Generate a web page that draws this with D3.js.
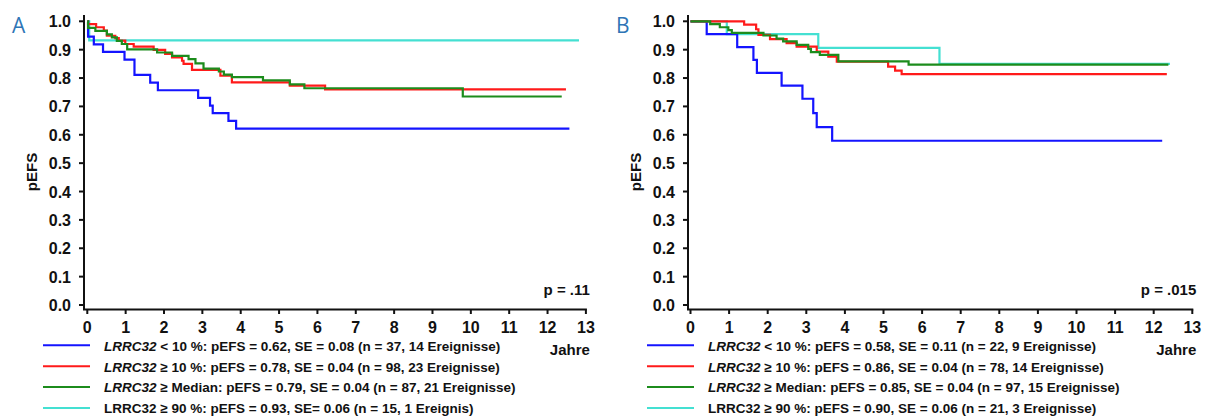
<!DOCTYPE html>
<html>
<head>
<meta charset="utf-8">
<script src="https://cdn.jsdelivr.net/npm/d3@7"></script>
<style>
body { margin: 0; background: #fff; }
svg text { font-family: "Liberation Sans", Arial, sans-serif; font-weight: bold; fill: #111; }
</style>
</head>
<body>
<svg id="chart" width="1206" height="417"></svg>
<script>
// tick values
var xTicks = d3.range(0, 14);
var yTicks = [0, 0.1, 0.2, 0.3, 0.4, 0.5, 0.6, 0.7, 0.8, 0.9, 1.0];

// panel A, Kaplan-Meier steps [Jahre, pEFS]
var aLow = [[0,1],[0.02,0.946],[0.17,0.919],[0.41,0.892],[0.97,0.865],[1.23,0.811],[1.64,0.784],[1.84,0.757],[2.89,0.730],[3.20,0.703],[3.27,0.676],[3.68,0.649],[3.88,0.622],[12.57,0.622]];
var aHigh10 = [[0,1],[0.02,0.990],[0.23,0.979],[0.43,0.967],[0.51,0.949],[0.73,0.941],[0.82,0.932],[0.99,0.920],[1.21,0.911],[1.73,0.899],[2.03,0.885],[2.21,0.873],[2.47,0.861],[2.51,0.850],[2.73,0.829],[3.47,0.808],[3.77,0.785],[5.28,0.773],[6.20,0.760],[12.48,0.760]];
var aMedian = [[0,1],[0.02,0.977],[0.21,0.966],[0.51,0.954],[0.64,0.943],[0.77,0.931],[0.90,0.920],[1.04,0.901],[1.82,0.890],[2.21,0.878],[2.64,0.867],[2.82,0.852],[3.03,0.833],[3.43,0.823],[3.56,0.812],[3.77,0.803],[4.58,0.792],[5.28,0.778],[5.66,0.764],[9.79,0.735],[12.37,0.735]];
var aTop90 = [[0,1],[0.05,0.933],[12.82,0.933]];

// panel B
var bLow = [[0,1],[0.42,0.955],[1.21,0.909],[1.63,0.864],[1.72,0.818],[2.36,0.773],[2.90,0.727],[3.18,0.676],[3.27,0.627],[3.67,0.579],[12.22,0.579]];
var bHigh10 = [[0,1],[1.39,0.988],[1.70,0.972],[1.76,0.952],[2.06,0.937],[2.49,0.923],[2.75,0.911],[3.27,0.893],[3.57,0.875],[3.79,0.858],[5.12,0.840],[5.30,0.826],[5.47,0.814],[12.34,0.814]];
var bMedian = [[0,1],[0.51,0.990],[0.76,0.979],[0.98,0.969],[1.07,0.959],[1.89,0.950],[2.23,0.939],[2.40,0.929],[2.75,0.917],[3.05,0.903],[3.12,0.891],[3.35,0.882],[3.83,0.859],[5.65,0.847],[12.38,0.847]];
var bTop90 = [[0,1],[0.94,0.955],[3.31,0.906],[6.45,0.850],[12.42,0.850]];

// legend texts
var legendGene = ["LRRC32", "LRRC32", "LRRC32", "LRRC32"];
var legendGeneItalic = [true, true, true, false];
var legendA = [
  " < 10 %: pEFS = 0.62, SE = 0.08 (n = 37, 14 Ereignisse)",
  " \u2265 10 %: pEFS = 0.78, SE = 0.04 (n = 98, 23 Ereignisse)",
  " \u2265 Median: pEFS = 0.79, SE = 0.04 (n = 87, 21 Ereignisse)",
  " \u2265 90 %: pEFS = 0.93, SE= 0.06 (n = 15, 1 Ereignis)"
];
var legendB = [
  " < 10 %: pEFS = 0.58, SE = 0.11 (n = 22, 9 Ereignisse)",
  " \u2265 10 %: pEFS = 0.86, SE = 0.04 (n = 78, 14 Ereignisse)",
  " \u2265 Median: pEFS = 0.85, SE = 0.04 (n = 97, 15 Ereignisse)",
  " \u2265 90 %: pEFS = 0.90, SE = 0.06 (n = 21, 3 Ereignisse)"
];
var pValues = ["p = .11", "p = .015"];
var panelLabels = ["A", "B"];

var colors = ["#1414ff", "#ff1a1a", "#1c8c1c", "#44e0d2"];

var svg = d3.select("#chart");

function drawPanel(opt) {
  var g = svg.append("g");
  var x = d3.scaleLinear().domain([0, 13]).range([opt.x0, opt.x13]);
  var y = d3.scaleLinear().domain([0, 1]).range([305, 21.3]);

  // y axis (offset Prism style)
  g.append("line")
    .attr("x1", opt.axisX).attr("x2", opt.axisX)
    .attr("y1", 15).attr("y2", 310)
    .attr("stroke", "#111").attr("stroke-width", 2);
  g.selectAll(".ytick").data(yTicks).enter().append("line")
    .attr("x1", opt.axisX - 5).attr("x2", opt.axisX)
    .attr("y1", function(d) { return y(d); })
    .attr("y2", function(d) { return y(d); })
    .attr("stroke", "#111").attr("stroke-width", 2);
  g.selectAll(".ylab").data(yTicks).enter().append("text")
    .attr("x", opt.axisX - 13)
    .attr("y", function(d) { return y(d) + 6; })
    .attr("text-anchor", "end")
    .style("font-size", "16px")
    .text(d3.format(".1f"));

  // x axis
  g.append("line")
    .attr("x1", opt.axisX - 1).attr("x2", x(13) + 1)
    .attr("y1", 309.5).attr("y2", 309.5)
    .attr("stroke", "#111").attr("stroke-width", 2);
  g.selectAll(".xtick").data(xTicks).enter().append("line")
    .attr("x1", function(d) { return x(d); })
    .attr("x2", function(d) { return x(d); })
    .attr("y1", 309.5).attr("y2", 314)
    .attr("stroke", "#111").attr("stroke-width", 2);
  g.selectAll(".xlab").data(xTicks).enter().append("text")
    .attr("x", function(d) { return x(d); })
    .attr("y", 333)
    .attr("text-anchor", "middle")
    .style("font-size", "16px")
    .text(function(d) { return d; });

  g.append("text")
    .attr("x", x(13) + 4).attr("y", 355)
    .attr("text-anchor", "end")
    .style("font-size", "15px")
    .text("Jahre");

  g.append("text")
    .attr("transform", "translate(" + (opt.axisX - 47) + ",172) rotate(-90)")
    .attr("text-anchor", "middle")
    .style("font-size", "15px")
    .text("pEFS");

  g.append("text")
    .attr("x", x(13) + 4).attr("y", 295)
    .attr("text-anchor", "end")
    .style("font-size", "15px")
    .text(opt.p);

  g.append("text")
    .attr("x", opt.axisX - 72).attr("y", 33)
    .style("font-family", "'Open Sans', sans-serif")
    .style("font-weight", "normal")
    .style("font-size", "21px")
    .style("fill", "#2e75b6")
    .text(opt.label);

  // curves: turquoise first, then blue, red, green
  var line = d3.line()
    .x(function(d) { return x(d[0]); })
    .y(function(d) { return y(d[1]); })
    .curve(d3.curveStepAfter);
  [3, 0, 1, 2].forEach(function(i) {
    g.append("path")
      .datum(opt.series[i])
      .attr("d", line)
      .attr("fill", "none")
      .attr("stroke", colors[i])
      .attr("stroke-width", 2.2);
  });

  // legend
  var rowY = [345.3, 366.2, 387, 408];
  opt.legend.forEach(function(txt, i) {
    g.append("line")
      .attr("x1", opt.axisX - 41).attr("x2", opt.axisX + 6)
      .attr("y1", rowY[i]).attr("y2", rowY[i])
      .attr("stroke", colors[i]).attr("stroke-width", 2);
    var t = g.append("text")
      .attr("x", opt.axisX + 20).attr("y", rowY[i] + 5.3)
      .style("font-size", "13.5px");
    t.append("tspan")
      .style("font-style", legendGeneItalic[i] ? "italic" : "normal")
      .text(legendGene[i]);
    t.append("tspan").text(txt);
  });
}

drawPanel({ x0: 87.3, x13: 585.9, axisX: 84, series: [aLow, aHigh10, aMedian, aTop90],
            legend: legendA, p: pValues[0], label: panelLabels[0] });
drawPanel({ x0: 690.5, x13: 1192.3, axisX: 688, series: [bLow, bHigh10, bMedian, bTop90],
            legend: legendB, p: pValues[1], label: panelLabels[1] });
</script>
</body>
</html>
